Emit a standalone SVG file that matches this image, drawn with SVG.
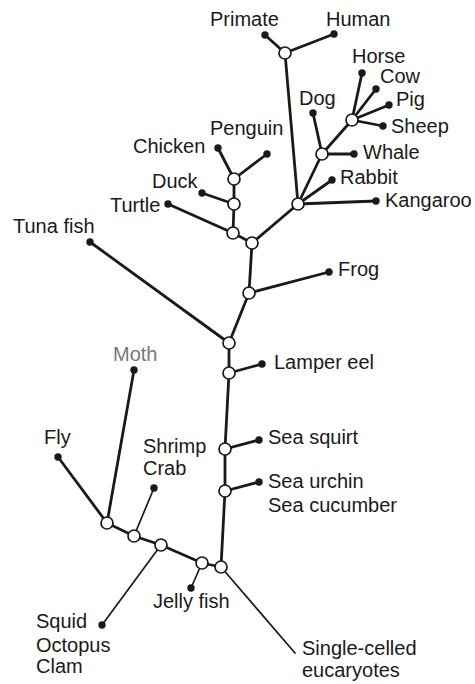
<svg xmlns="http://www.w3.org/2000/svg" width="475" height="684" viewBox="0 0 475 684">
<style>
.bg{fill:#fff}
.e{stroke:#1a1a1a;stroke-width:2.8;fill:none;stroke-linecap:round}
.t{stroke:#1a1a1a;stroke-width:1.7;fill:none;stroke-linecap:round}
.n{fill:#fff;stroke:#1a1a1a;stroke-width:1.7}
.d{fill:#1a1a1a}
text{font-family:"Liberation Sans",Arial,sans-serif;font-size:20px;fill:#1a1a1a}
.g{fill:#777}
</style>
<rect class="bg" width="475" height="684"/>
<g id="connectors">
<path class="t" d="M221 567 L295 653"/>
<path class="e" d="M221 567 L202 563"/>
<path class="e" d="M221 567 L225 491 L225 449 L229 373 L229 343 L249 293 L252 243"/>
<path class="e" d="M252 243 L233 233 L234 204 L234 179"/>
<path class="e" d="M234 179 L218 148"/>
<path class="e" d="M234 179 L267 154"/>
<path class="e" d="M234 204 L202 193"/>
<path class="e" d="M233 233 L168 204"/>
<path class="e" d="M252 243 L298 204"/>
<path class="e" d="M298 204 L285 53"/>
<path class="e" d="M285 53 L265 35"/>
<path class="e" d="M285 53 L334 34"/>
<path class="e" d="M298 204 L376 201"/>
<path class="e" d="M298 204 L332 180"/>
<path class="e" d="M298 204 L322 154"/>
<path class="e" d="M322 154 L313 113"/>
<path class="e" d="M322 154 L354 154"/>
<path class="e" d="M322 154 L352 120"/>
<path class="e" d="M352 120 L362 73"/>
<path class="e" d="M352 120 L376 89"/>
<path class="e" d="M352 120 L389 105"/>
<path class="e" d="M352 120 L383 126"/>
<path class="e" d="M249 293 L329 272"/>
<path class="e" d="M229 343 L90 242"/>
<path class="e" d="M229 373 L262 364"/>
<path class="e" d="M225 449 L259 440"/>
<path class="e" d="M225 491 L259 482"/>
<path class="e" d="M202 563 L161 545 L134 536 L107 523"/>
<path class="t" d="M202 563 L191 588"/>
<path class="t" d="M161 545 L102 625"/>
<path class="t" d="M134 536 L154 488"/>
<path class="e" d="M107 523 L58 457"/>
<path class="e" d="M107 523 L134 370"/>
</g>
<g id="nodes-internal">
<circle class="n" cx="221" cy="567" r="6"/>
<circle class="n" cx="202" cy="563" r="6"/>
<circle class="n" cx="225" cy="491" r="6"/>
<circle class="n" cx="225" cy="449" r="6"/>
<circle class="n" cx="229" cy="373" r="6"/>
<circle class="n" cx="229" cy="343" r="6"/>
<circle class="n" cx="249" cy="293" r="6"/>
<circle class="n" cx="252" cy="243" r="6"/>
<circle class="n" cx="233" cy="233" r="6"/>
<circle class="n" cx="234" cy="204" r="6"/>
<circle class="n" cx="234" cy="179" r="6"/>
<circle class="n" cx="298" cy="204" r="6"/>
<circle class="n" cx="285" cy="53" r="6"/>
<circle class="n" cx="322" cy="154" r="6"/>
<circle class="n" cx="352" cy="120" r="6"/>
<circle class="n" cx="161" cy="545" r="6"/>
<circle class="n" cx="134" cy="536" r="6"/>
<circle class="n" cx="107" cy="523" r="6"/>
</g>
<g id="primate"><circle class="d" cx="265" cy="35" r="3.7"/><text x="210" y="26">Primate</text></g>
<g id="human"><circle class="d" cx="334" cy="34" r="3.7"/><text x="326" y="26">Human</text></g>
<g id="horse"><circle class="d" cx="362" cy="73" r="3.7"/><text x="352" y="63">Horse</text></g>
<g id="cow"><circle class="d" cx="376" cy="89" r="3.7"/><text x="380" y="83">Cow</text></g>
<g id="pig"><circle class="d" cx="389" cy="105" r="3.7"/><text x="396" y="106">Pig</text></g>
<g id="sheep"><circle class="d" cx="383" cy="126" r="3.7"/><text x="391" y="133">Sheep</text></g>
<g id="dog"><circle class="d" cx="313" cy="113" r="3.7"/><text x="299" y="105">Dog</text></g>
<g id="whale"><circle class="d" cx="354" cy="154" r="3.7"/><text x="363" y="159">Whale</text></g>
<g id="rabbit"><circle class="d" cx="332" cy="180" r="3.7"/><text x="340" y="184">Rabbit</text></g>
<g id="kangaroo"><circle class="d" cx="376" cy="201" r="3.7"/><text x="385" y="207">Kangaroo</text></g>
<g id="penguin"><circle class="d" cx="267" cy="154" r="3.7"/><text x="210" y="135">Penguin</text></g>
<g id="chicken"><circle class="d" cx="218" cy="148" r="3.7"/><text x="133" y="153">Chicken</text></g>
<g id="duck"><circle class="d" cx="202" cy="193" r="3.7"/><text x="152" y="188">Duck</text></g>
<g id="turtle"><circle class="d" cx="168" cy="204" r="3.7"/><text x="110" y="212">Turtle</text></g>
<g id="tuna"><circle class="d" cx="90" cy="242" r="3.7"/><text x="13" y="233">Tuna fish</text></g>
<g id="frog"><circle class="d" cx="329" cy="272" r="3.7"/><text x="338" y="276">Frog</text></g>
<g id="moth"><circle class="d" cx="134" cy="370" r="3.7"/><text class="g" x="113" y="361">Moth</text></g>
<g id="lamper"><circle class="d" cx="262" cy="364" r="3.7"/><text x="274" y="369">Lamper eel</text></g>
<g id="seasquirt"><circle class="d" cx="259" cy="440" r="3.7"/><text x="268" y="444">Sea squirt</text></g>
<g id="seaurchin"><circle class="d" cx="259" cy="482" r="3.7"/><text x="268" y="488">Sea urchin</text><text x="268" y="512">Sea cucumber</text></g>
<g id="fly"><circle class="d" cx="58" cy="457" r="3.7"/><text x="44" y="444">Fly</text></g>
<g id="shrimp"><circle class="d" cx="154" cy="488" r="3.7"/><text x="143" y="453">Shrimp</text><text x="143" y="475">Crab</text></g>
<g id="squid"><circle class="d" cx="102" cy="625" r="3.7"/><text x="36" y="628">Squid</text><text x="36" y="652">Octopus</text><text x="36" y="673">Clam</text></g>
<g id="jelly"><circle class="d" cx="191" cy="588" r="3.7"/><text x="153" y="608">Jelly fish</text></g>
<g id="single"><text x="302" y="655">Single-celled</text><text x="302" y="677">eucaryotes</text></g>
</svg>
